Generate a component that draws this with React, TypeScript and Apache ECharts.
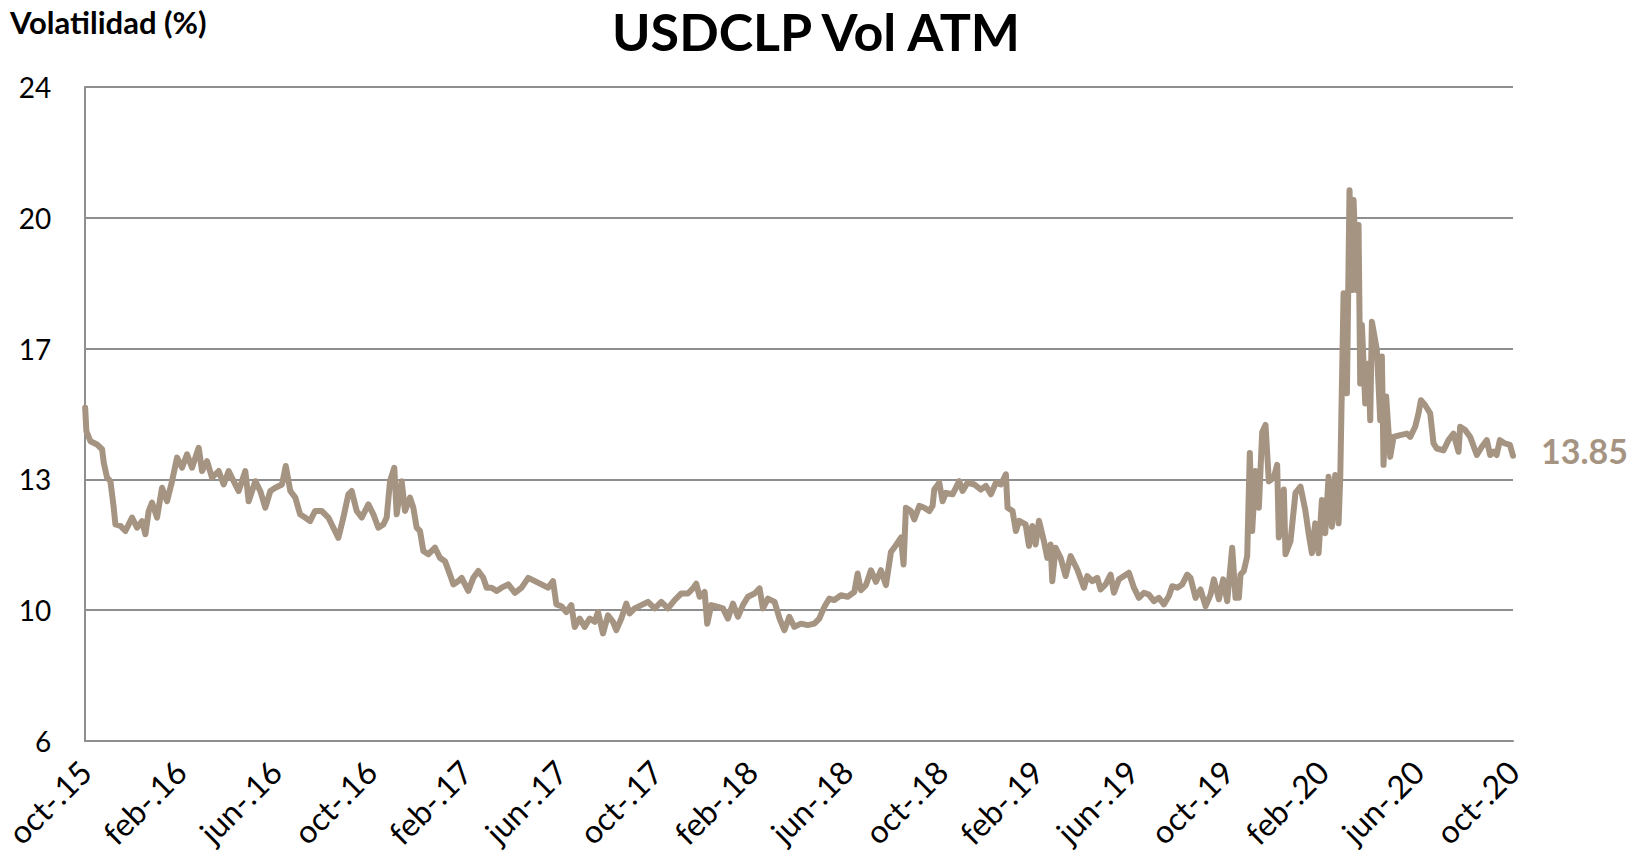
import React, { useEffect, useRef } from "react";
import * as echarts from "echarts";

// Tick labels every 4 months, Oct-2015 .. Oct-2020 (x is "months since Oct-2015")
const xTickLabels = [
  "oct-.15", "feb-.16", "jun-.16", "oct-.16", "feb-.17", "jun-.17", "oct-.17", "feb-.18",
  "jun-.18", "oct-.18", "feb-.19", "jun-.19", "oct-.19", "feb-.20", "jun-.20", "oct-.20",
];
const yTickLabels = ["6", "10", "13", "17", "20", "24"];

// [months since Oct-2015, USDCLP ATM vol %]
const volOct15ToJun17: [number, number][] = [
  [0, 15.17], [0.05, 14.53], [0.22, 14.25], [0.5, 14.16], [0.71, 14.03], [0.78, 13.66],
  [0.92, 13.25], [1.06, 13.15], [1.2, 12.42], [1.27, 11.96], [1.48, 11.92], [1.69, 11.78],
  [1.83, 11.96], [1.97, 12.15], [2.18, 11.87], [2.39, 12.05], [2.53, 11.69], [2.67, 12.33],
  [2.81, 12.56], [3.02, 12.15], [3.23, 12.97], [3.44, 12.6], [3.65, 13.15], [3.86, 13.8],
  [4.07, 13.52], [4.28, 13.89], [4.49, 13.52], [4.77, 14.07], [4.91, 13.43], [5.12, 13.7],
  [5.33, 13.25], [5.61, 13.43], [5.82, 13.06], [6.03, 13.43], [6.24, 13.15], [6.45, 12.88],
  [6.73, 13.43], [6.87, 12.6], [7.15, 13.15], [7.36, 12.88], [7.57, 12.42], [7.78, 12.88],
  [7.99, 12.97], [8.27, 13.06], [8.43, 13.57], [8.62, 12.88], [8.83, 12.7], [9.03, 12.24],
  [9.24, 12.15], [9.45, 12.05], [9.66, 12.33], [9.94, 12.33], [10.22, 12.15], [10.43, 11.87],
  [10.64, 11.59], [10.85, 12.15], [11.06, 12.79], [11.2, 12.88], [11.41, 12.33], [11.62, 12.15],
  [11.9, 12.51], [12.11, 12.24], [12.32, 11.87], [12.53, 11.96], [12.67, 12.15], [12.81, 13.15],
  [12.99, 13.52], [13.09, 12.24], [13.3, 13.15], [13.44, 12.33], [13.65, 12.7], [13.79, 12.42],
  [13.93, 11.87], [14.07, 11.78], [14.21, 11.23], [14.42, 11.14], [14.7, 11.32], [14.91, 11.04],
  [15.12, 10.95], [15.33, 10.58], [15.47, 10.31], [15.68, 10.4], [15.82, 10.49], [16.1, 10.13],
  [16.31, 10.49], [16.52, 10.68], [16.73, 10.49], [16.87, 10.22], [17.08, 10.22], [17.29, 10.13],
  [17.5, 10.22], [17.78, 10.31], [18.06, 10.08], [18.34, 10.22], [18.62, 10.49], [18.9, 10.4],
  [19.17, 10.31], [19.45, 10.22], [19.66, 10.4], [19.8, 9.76], [20.01, 9.71],
];

const volJun17ToAug18: [number, number][] = [
  [20.22, 9.55], [20.43, 9.74], [20.57, 9.14], [20.78, 9.37], [20.99, 9.14], [21.2, 9.37],
  [21.41, 9.28], [21.55, 9.55], [21.76, 8.96], [21.97, 9.46], [22.18, 9.28], [22.32, 9.05],
  [22.53, 9.37], [22.74, 9.78], [22.88, 9.51], [23.09, 9.65], [23.37, 9.74], [23.65, 9.83],
  [23.93, 9.65], [24.21, 9.83], [24.49, 9.65], [24.77, 9.88], [25.05, 10.06], [25.33, 10.06],
  [25.54, 10.2], [25.68, 10.33], [25.82, 9.97], [26.03, 10.1], [26.14, 9.23], [26.31, 9.74],
  [26.59, 9.69], [26.8, 9.65], [27.01, 9.37], [27.22, 9.78], [27.43, 9.42], [27.64, 9.74],
  [27.85, 9.97], [28.13, 10.06], [28.34, 10.2], [28.48, 9.65], [28.69, 9.92], [28.97, 9.83],
  [29.18, 9.37], [29.38, 9.05], [29.59, 9.42], [29.8, 9.14], [30.08, 9.23], [30.36, 9.19],
  [30.64, 9.23], [30.85, 9.37], [31.06, 9.69], [31.27, 9.92], [31.48, 9.88], [31.76, 10.01],
  [32.04, 9.97], [32.32, 10.1], [32.46, 10.61], [32.6, 10.15], [32.81, 10.29], [33.02, 10.7],
  [33.23, 10.38], [33.44, 10.7], [33.65, 10.29], [33.86, 11.2], [34.07, 11.39],
];

const volAug18ToJan20: [number, number][] = [
  [34.28, 11.6], [34.39, 10.86], [34.49, 12.42], [34.7, 12.33], [34.84, 12.1], [35.05, 12.47],
  [35.26, 12.42], [35.47, 12.33], [35.61, 12.47], [35.68, 12.92], [35.89, 13.11], [36.03, 12.6],
  [36.17, 12.83], [36.45, 12.79], [36.73, 13.15], [36.87, 12.88], [37.08, 13.11], [37.36, 13.06],
  [37.64, 12.92], [37.85, 13.02], [38.06, 12.79], [38.27, 13.11], [38.48, 13.06], [38.69, 13.34],
  [38.76, 12.42], [38.97, 12.33], [39.11, 11.78], [39.25, 12.06], [39.52, 11.96], [39.66, 11.37],
  [39.8, 11.92], [39.94, 11.41], [40.08, 12.06], [40.29, 11.5], [40.43, 11.04], [40.57, 11.41],
  [40.64, 10.4], [40.78, 11.32], [40.99, 11.04], [41.2, 10.54], [41.41, 11.09], [41.69, 10.72],
  [41.97, 10.22], [42.11, 10.54], [42.32, 10.4], [42.53, 10.49], [42.67, 10.17], [42.88, 10.31],
  [43.09, 10.58], [43.23, 10.08], [43.44, 10.45], [43.65, 10.54], [43.86, 10.63], [44.07, 10.22],
  [44.28, 9.94], [44.49, 10.08], [44.7, 10.03], [44.91, 9.85], [45.12, 9.94], [45.33, 9.76],
  [45.54, 9.99], [45.68, 10.26], [45.89, 10.22], [46.1, 10.31], [46.31, 10.58], [46.45, 10.49],
  [46.66, 9.94], [46.87, 10.17], [47.08, 9.71], [47.29, 10.03], [47.43, 10.45], [47.64, 9.9],
  [47.82, 10.45], [47.99, 9.85], [48.2, 11.32], [48.34, 9.94], [48.48, 9.94], [48.55, 10.58],
  [48.69, 10.68], [48.83, 11.09], [48.94, 13.93], [49.04, 11.78], [49.18, 13.43], [49.32, 12.42],
  [49.46, 14.5], [49.6, 14.7], [49.74, 13.15], [49.95, 13.25], [50.09, 13.6], [50.16, 11.6],
  [50.37, 12.92], [50.44, 11.14], [50.65, 11.5], [50.86, 12.83], [51.07, 13.0],
];

const volJan20ToOct20: [number, number][] = [
  [51.27, 12.36], [51.41, 11.72], [51.55, 11.17], [51.69, 11.99], [51.83, 11.17], [51.97, 12.63],
  [52.11, 11.72], [52.25, 13.27], [52.39, 11.9], [52.53, 13.32], [52.67, 11.99], [52.74, 13.23],
  [52.88, 18.32], [53.02, 15.57], [53.13, 21.16], [53.23, 18.41], [53.3, 20.89], [53.44, 18.41],
  [53.51, 20.2], [53.58, 15.84], [53.65, 17.45], [53.79, 15.29], [53.93, 16.39], [54.0, 14.83],
  [54.07, 17.54], [54.28, 16.76], [54.42, 14.83], [54.49, 16.58], [54.56, 13.6], [54.67, 15.48],
  [54.84, 13.82], [54.98, 14.37], [55.26, 14.42], [55.54, 14.46], [55.68, 14.37], [55.89, 14.65],
  [56.03, 15.02], [56.13, 15.38], [56.31, 15.24], [56.52, 15.02], [56.66, 14.19], [56.8, 14.05],
  [57.08, 14.0], [57.29, 14.28], [57.5, 14.46], [57.71, 13.96], [57.78, 14.65], [57.99, 14.56],
  [58.2, 14.37], [58.48, 13.87], [58.69, 14.1], [58.9, 14.28], [59.04, 13.87], [59.18, 13.96],
  [59.31, 13.87], [59.45, 14.28], [59.66, 14.19], [59.87, 14.15], [60.0, 13.85],
];

const TOTAL_MONTHS = 60;
const LINE_COLOR = "#A69482";
const GRID_COLOR = "#8E8E8E";
const FONT = "Lato, 'Open Sans', sans-serif";

export default function App() {
  const ref = useRef<HTMLDivElement>(null);

  useEffect(() => {
    document.body.style.margin = "0";
    if (!ref.current) return;
    const chart = echarts.init(ref.current, undefined, { renderer: "svg" });
    const data = [
      ...volOct15ToJun17,
      ...volJun17ToAug18,
      ...volAug18ToJan20,
      ...volJan20ToOct20,
    ];

    chart.setOption({
      animation: false,
      backgroundColor: "#ffffff",
      textStyle: { fontFamily: FONT },
      title: {
        text: "USDCLP Vol ATM",
        left: 612,
        top: 5,
        padding: 0,
        textStyle: {
          fontFamily: FONT,
          fontWeight: "bold",
          fontSize: 52,
          lineHeight: 52,
          color: "#000000",
        },
      },
      graphic: [
        {
          type: "text",
          left: 10,
          top: 6,
          style: {
            text: "Volatilidad (%)",
            font: `bold 31px ${FONT}`,
            fill: "#000000",
          },
        },
      ],
      grid: { left: 83, right: 135, top: 87, bottom: 113, containLabel: false },
      xAxis: {
        type: "value",
        min: 0,
        max: TOTAL_MONTHS,
        interval: 4,
        axisLine: { show: true, onZero: false, lineStyle: { color: GRID_COLOR, width: 2 } },
        axisTick: { show: false },
        splitLine: { show: false },
        axisLabel: {
          rotate: 45,
          margin: 25,
          fontSize: 32,
          color: "#000000",
          fontFamily: FONT,
          formatter: (v: number) => xTickLabels[Math.round(v / 4)] ?? "",
        },
      },
      yAxis: {
        type: "value",
        min: 6,
        max: 24,
        interval: 3.6,
        axisLine: { show: true, lineStyle: { color: GRID_COLOR, width: 2 } },
        axisTick: { show: false },
        splitLine: { show: true, lineStyle: { color: GRID_COLOR, width: 2 } },
        axisLabel: {
          margin: 34,
          fontSize: 28,
          color: "#000000",
          fontFamily: FONT,
          formatter: (v: number) => yTickLabels[Math.round((v - 6) / 3.6)] ?? "",
        },
      },
      series: [
        {
          type: "line",
          data,
          showSymbol: false,
          symbol: "none",
          lineStyle: { color: LINE_COLOR, width: 6, join: "round", cap: "round" },
          itemStyle: { color: LINE_COLOR },
          endLabel: {
            show: true,
            distance: 28,
            formatter: (p: any) => Number(p.value[1]).toFixed(2),
            color: LINE_COLOR,
            fontSize: 34,
            fontWeight: "bold",
            fontFamily: FONT,
            offset: [0, -5],
          },
        },
      ],
    });

    return () => chart.dispose();
  }, []);

  return <div ref={ref} style={{ width: 1648, height: 854 }} />;
}
